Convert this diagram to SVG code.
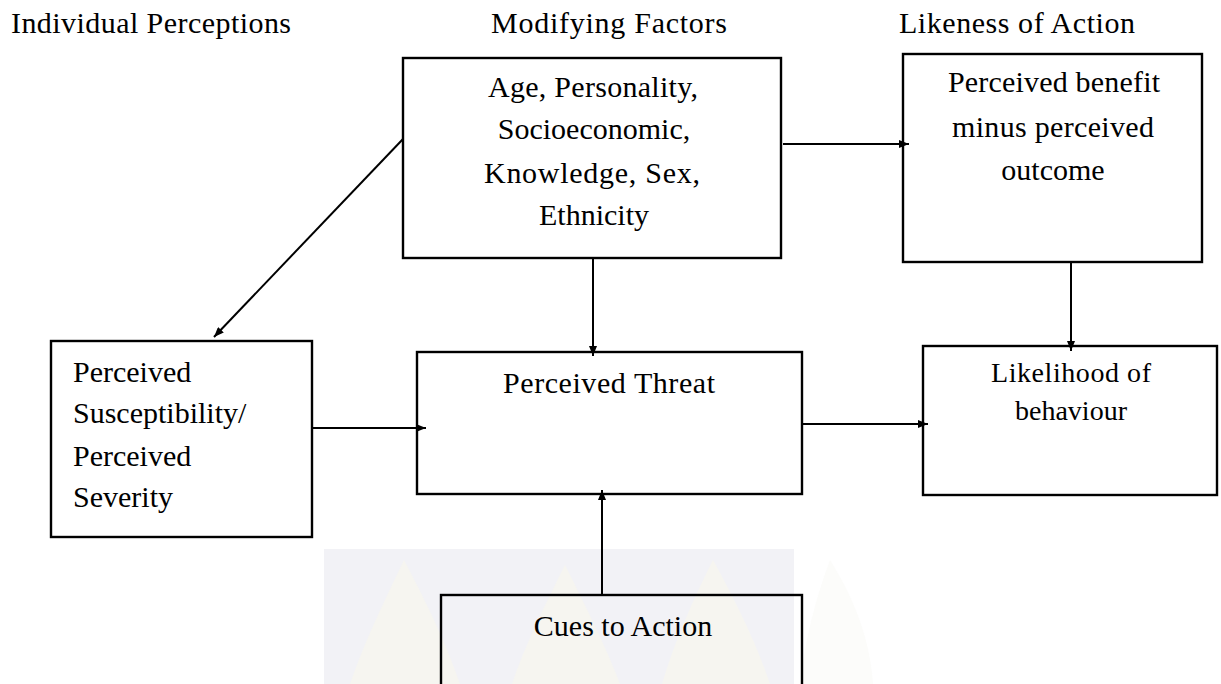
<svg xmlns="http://www.w3.org/2000/svg" width="1221" height="684" viewBox="0 0 1221 684">
  <style>
    .box { fill: none; stroke: #000; stroke-width: 2.4; }
    .t { font-family: "Liberation Serif", "Times New Roman", serif; font-size: 30px; fill: #000; }
    .c { text-anchor: middle; }
    .s28 { font-size: 28px; }
    .edge { stroke: #000; stroke-width: 2; fill: none; marker-end: url(#arrow); }
  </style>
  <defs>
    <marker id="arrow" markerUnits="userSpaceOnUse" markerWidth="11" markerHeight="8" refX="10" refY="4" orient="auto">
      <path d="M0,0 L10,4 L0,8 Z" fill="#000"/>
    </marker>
  </defs>
  <rect width="1221" height="684" fill="#fff"/>

  <!-- faint watermark -->
  <g id="watermark">
    <rect x="324" y="549" width="470" height="135" fill="#f2f2f6"/>
    <path d="M404,560 C385,600 365,640 350,684 L460,684 C445,640 425,600 404,560 Z" fill="#f6f5f0"/>
    <path d="M565,565 C545,605 525,645 512,684 L620,684 C605,645 585,605 565,565 Z" fill="#f6f5f0"/>
    <path d="M713,560 C693,600 675,640 662,684 L770,684 C755,640 735,600 713,560 Z" fill="#f6f5f0"/>
    <path d="M830,560 C815,600 805,640 800,684 L873,684 C870,640 855,600 830,560 Z" fill="#fcfcfa"/>
  </g>

  <!-- titles -->
  <g id="titles">
    <text class="t" x="11" y="33" textLength="280" lengthAdjust="spacing">Individual Perceptions</text>
    <text class="t" x="491" y="33" textLength="236" lengthAdjust="spacing">Modifying Factors</text>
    <text class="t" x="899" y="33" textLength="236" lengthAdjust="spacing">Likeness of Action</text>
  </g>

  <!-- connectors -->
  <g id="connectors">
    <line class="edge" x1="403" y1="139" x2="214" y2="337"/>
    <line class="edge" x1="783" y1="144" x2="909" y2="144"/>
    <line class="edge" x1="593" y1="258" x2="593" y2="356"/>
    <line class="edge" x1="1071" y1="262" x2="1071" y2="351"/>
    <line class="edge" x1="312" y1="428" x2="426" y2="428"/>
    <line class="edge" x1="802" y1="424" x2="928" y2="424"/>
    <line class="edge" x1="602" y1="595" x2="602" y2="490"/>
  </g>

  <g id="modifying">
    <rect class="box" x="403" y="58" width="378" height="200"/>
    <text class="t c" x="593" y="97" textLength="210" lengthAdjust="spacing">Age, Personality,</text>
    <text class="t c" x="594" y="139">Socioeconomic,</text>
    <text class="t c" x="592" y="183" textLength="216" lengthAdjust="spacing">Knowledge, Sex,</text>
    <text class="t c" x="594" y="225">Ethnicity</text>
  </g>

  <g id="benefit">
    <rect class="box" x="903" y="54" width="299" height="208"/>
    <text class="t c" x="1054" y="92" textLength="212" lengthAdjust="spacing">Perceived benefit</text>
    <text class="t c" x="1053" y="137" textLength="202" lengthAdjust="spacing">minus perceived</text>
    <text class="t c" x="1053" y="180">outcome</text>
  </g>

  <g id="susceptibility">
    <rect class="box" x="51" y="341" width="261" height="196"/>
    <text class="t" x="73" y="382">Perceived</text>
    <text class="t" x="73" y="423">Susceptibility/</text>
    <text class="t" x="73" y="466">Perceived</text>
    <text class="t" x="73" y="507">Severity</text>
  </g>

  <g id="threat">
    <rect class="box" x="417" y="352" width="385" height="142"/>
    <text class="t c" x="609" y="393" textLength="212" lengthAdjust="spacing">Perceived Threat</text>
  </g>

  <g id="likelihood">
    <rect class="box" x="923" y="346" width="294" height="149"/>
    <text class="t c s28" x="1071" y="382" textLength="160" lengthAdjust="spacing">Likelihood of</text>
    <text class="t c s28" x="1071" y="420">behaviour</text>
  </g>

  <g id="cues">
    <rect class="box" x="441" y="595" width="361" height="91"/>
    <text class="t c" x="623" y="636">Cues to Action</text>
  </g>
</svg>
